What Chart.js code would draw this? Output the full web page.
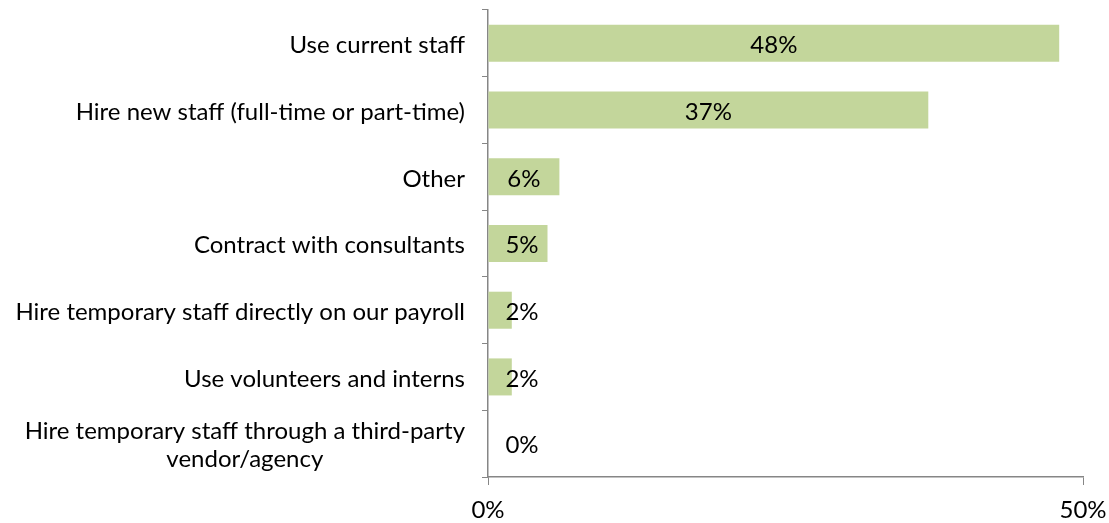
<!DOCTYPE html>
<html>
<head>
<meta charset="utf-8">
<script src="https://cdn.jsdelivr.net/npm/chart.js@4"></script>
<style>
  html, body { margin: 0; padding: 0; background: #fff; }
  #wrap { width: 1109px; height: 523px; }
</style>
</head>
<body>
<div id="wrap"><canvas id="c" width="1109" height="523"></canvas></div>
<script>
const categories = [
  'Use current staff',
  'Hire new staff (full-time or part-time)',
  'Other',
  'Contract with consultants',
  'Hire temporary staff directly on our payroll',
  'Use volunteers and interns',
  ['Hire temporary staff through a third-party', 'vendor/agency']
];
const shares = [48, 37, 6, 5, 2, 2, 0];
const axisTicks = [0, 50];

const FONT = '24px Lato';
const AXIS_GREY = '#868686';

// category names, drawn by hand so the two-line one can be centred
const categoryLabels = {
  id: 'categoryLabels',
  afterDraw(chart) {
    const y = chart.scales.y;
    const ctx = chart.ctx;
    ctx.save();
    ctx.font = FONT;
    ctx.fillStyle = '#000';
    ctx.textBaseline = 'middle';
    const right = y.right - 23;
    categories.forEach((lab, i) => {
      const cy = y.getPixelForValue(i);
      const lines = Array.isArray(lab) ? lab : [lab];
      const widest = Math.max(...lines.map(l => ctx.measureText(l).width));
      const lh = 28;
      lines.forEach((l, k) => {
        const ly = cy + 2 + (k - (lines.length - 1) / 2) * lh;
        ctx.textAlign = 'center';
        ctx.fillText(l, right - widest / 2, ly);
      });
    });
    ctx.restore();
  }
};

// percentage labels inside the bars
const valueLabels = {
  id: 'valueLabels',
  afterDatasetsDraw(chart) {
    const ctx = chart.ctx;
    const meta = chart.getDatasetMeta(0);
    const x0 = chart.scales.x.getPixelForValue(0);
    ctx.save();
    ctx.font = FONT;
    ctx.fillStyle = '#000';
    ctx.textAlign = 'center';
    ctx.textBaseline = 'middle';
    meta.data.forEach((bar, i) => {
      const mid = (bar.base + bar.x) / 2;
      ctx.fillText(shares[i] + '%', Math.max(mid, x0 + 34), bar.y + 2);
    });
    ctx.restore();
  }
};

new Chart(document.getElementById('c'), {
  type: 'bar',
  data: {
    labels: categories,
    datasets: [{
      data: shares,
      backgroundColor: '#c3d69b',
      borderWidth: 0,
      barPercentage: 1,
      categoryPercentage: 0.555
    }]
  },
  options: {
    indexAxis: 'y',
    responsive: false,
    animation: false,
    layout: { padding: { top: 10, right: 26, left: 0, bottom: 0 } },
    plugins: {
      legend: { display: false },
      tooltip: { enabled: false }
    },
    scales: {
      x: {
        min: 0,
        max: 50,
        afterBuildTicks: s => { s.ticks = axisTicks.map(v => ({ value: v })); },
        afterFit: s => {
          s.height = 46;
          s.paddingLeft = 0;
          s.paddingRight = 0;
        },
        ticks: {
          callback: v => v + '%',
          font: { family: 'Lato', size: 24 },
          color: '#000',
          padding: 11,
          maxRotation: 0
        },
        grid: {
          drawOnChartArea: false,
          tickLength: 8,
          color: AXIS_GREY
        },
        border: { color: AXIS_GREY, width: 1.5 }
      },
      y: {
        afterFit: s => { s.width = 488; },
        ticks: { display: false },
        grid: {
          drawOnChartArea: false,
          tickLength: 6,
          color: AXIS_GREY,
          offset: true
        },
        border: { color: AXIS_GREY, width: 1.5 }
      }
    }
  },
  plugins: [categoryLabels, valueLabels]
});
</script>
</body>
</html>
